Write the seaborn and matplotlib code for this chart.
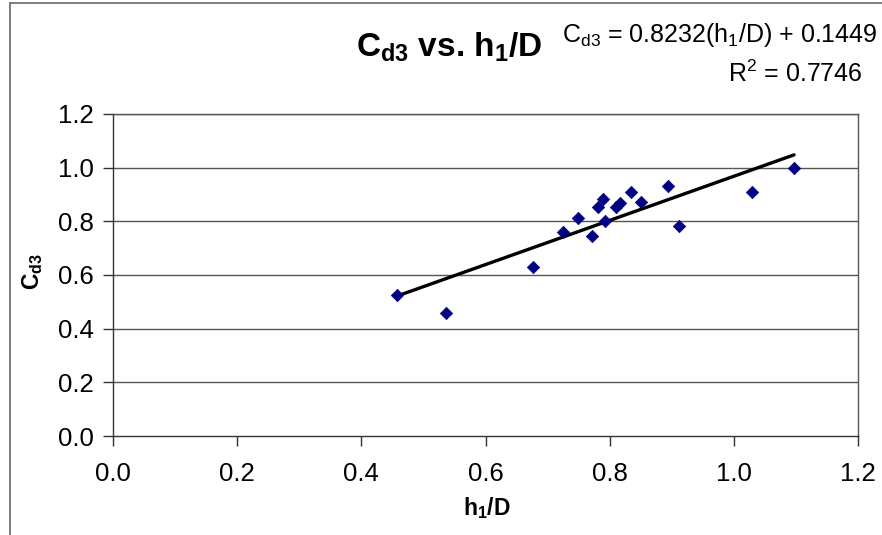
import matplotlib
matplotlib.use("Agg")
import matplotlib.pyplot as plt
import seaborn as sns
import pandas as pd
from matplotlib.lines import Line2D

# Data
h1_D = [0.458, 0.536, 0.677, 0.725, 0.749, 0.772, 0.782, 0.790, 0.793, 0.810,
        0.816, 0.834, 0.850, 0.894, 0.911, 1.030, 1.097]
Cd3 = [0.524, 0.460, 0.628, 0.761, 0.812, 0.746, 0.853, 0.885, 0.801, 0.853,
       0.870, 0.908, 0.873, 0.933, 0.782, 0.909, 0.997]
x_ticks = [0.0, 0.2, 0.4, 0.6, 0.8, 1.0, 1.2]
y_ticks = [0.0, 0.2, 0.4, 0.6, 0.8, 1.0, 1.2]
title_text = r"C$_{\mathbf{d3}}$ vs. h$_{\mathbf{1}}$/D"
equation_text = r"C$_{\mathregular{d3}}$ = 0.8232(h$_{\mathregular{1}}$/D) + 0.1449"
r2_text = r"R$^{\mathregular{2}}$ = 0.7746"

df = pd.DataFrame({"h1_D": h1_D, "Cd3": Cd3})

sns.set_style("white")
plt.rcParams["font.family"] = ["Liberation Sans", "DejaVu Sans"]
plt.rcParams["mathtext.fontset"] = "custom"
plt.rcParams["mathtext.rm"] = "Liberation Sans"
plt.rcParams["mathtext.bf"] = "Liberation Sans:bold"
plt.rcParams["text.color"] = "black"
plt.rcParams["axes.labelcolor"] = "black"
plt.rcParams["xtick.color"] = "black"
plt.rcParams["ytick.color"] = "black"

fig = plt.figure(figsize=(8.82, 5.35), dpi=100)
ax = fig.add_axes([113 / 882, 1 - 436 / 535, (858 - 113) / 882, (436 - 114) / 535])

# grid
for yt in y_ticks[1:]:
    ax.axhline(yt, color="#555555", lw=1.0, zorder=0)

sns.regplot(data=df, x="h1_D", y="Cd3", ax=ax, scatter=False, ci=None,
            truncate=True, line_kws=dict(color="black", lw=2.4, zorder=2))
sns.scatterplot(data=df, x="h1_D", y="Cd3", ax=ax, marker="D", s=40,
                color="#000080", edgecolor="#000080", linewidth=0.5, zorder=3)

ax.set_xlim(0, 1.2)
ax.set_ylim(0, 1.2)
ax.set_xticks(x_ticks)
ax.set_yticks(y_ticks)
ax.set_xticklabels([f"{v:.1f}" for v in x_ticks], fontsize=18.5)
ax.set_yticklabels([f"{v:.1f}" for v in y_ticks], fontsize=18.5)
ax.tick_params(axis="both", direction="out", length=7, width=1, color="#333333",
               bottom=True, left=True)
ax.tick_params(axis="x", pad=12)
ax.tick_params(axis="y", pad=7)
for sp in ax.spines.values():
    sp.set_visible(True)
    sp.set_color("#555555")
    sp.set_linewidth(1.0)
ax.spines["left"].set_color("#333333")
ax.spines["bottom"].set_color("#333333")

ax.set_xlabel(r"h$_{\mathbf{1}}$/D", fontsize=16.5, fontweight="bold", labelpad=8)
ax.set_ylabel(r"C$_{\mathbf{d3}}$", fontsize=16.5, fontweight="bold", labelpad=8)
ax.xaxis.set_label_coords(487 / 882, 1 - 508 / 535, transform=fig.transFigure)
ax.yaxis.set_label_coords(33 / 882, 1 - 272 / 535, transform=fig.transFigure)
ax.xaxis.label.set_va("center")
ax.yaxis.label.set_va("center")

fig.text(449 / 882, 1 - 47 / 535, title_text,
         fontsize=24, fontweight="bold", ha="center", va="center")
fig.text(720 / 882, 1 - 35 / 535, equation_text, fontsize=18,
         ha="center", va="center")
fig.text(795 / 882, 1 - 74 / 535, r2_text, fontsize=18, ha="center", va="center")

# chart-area border
fig.add_artist(Line2D([10 / 882, 10 / 882], [0, 1 - 3 / 535],
                      transform=fig.transFigure, color="#666666", lw=1.2))
fig.add_artist(Line2D([10 / 882, 1], [1 - 3 / 535, 1 - 3 / 535],
                      transform=fig.transFigure, color="#666666", lw=1.2))

fig.savefig("out.png", dpi=100)
